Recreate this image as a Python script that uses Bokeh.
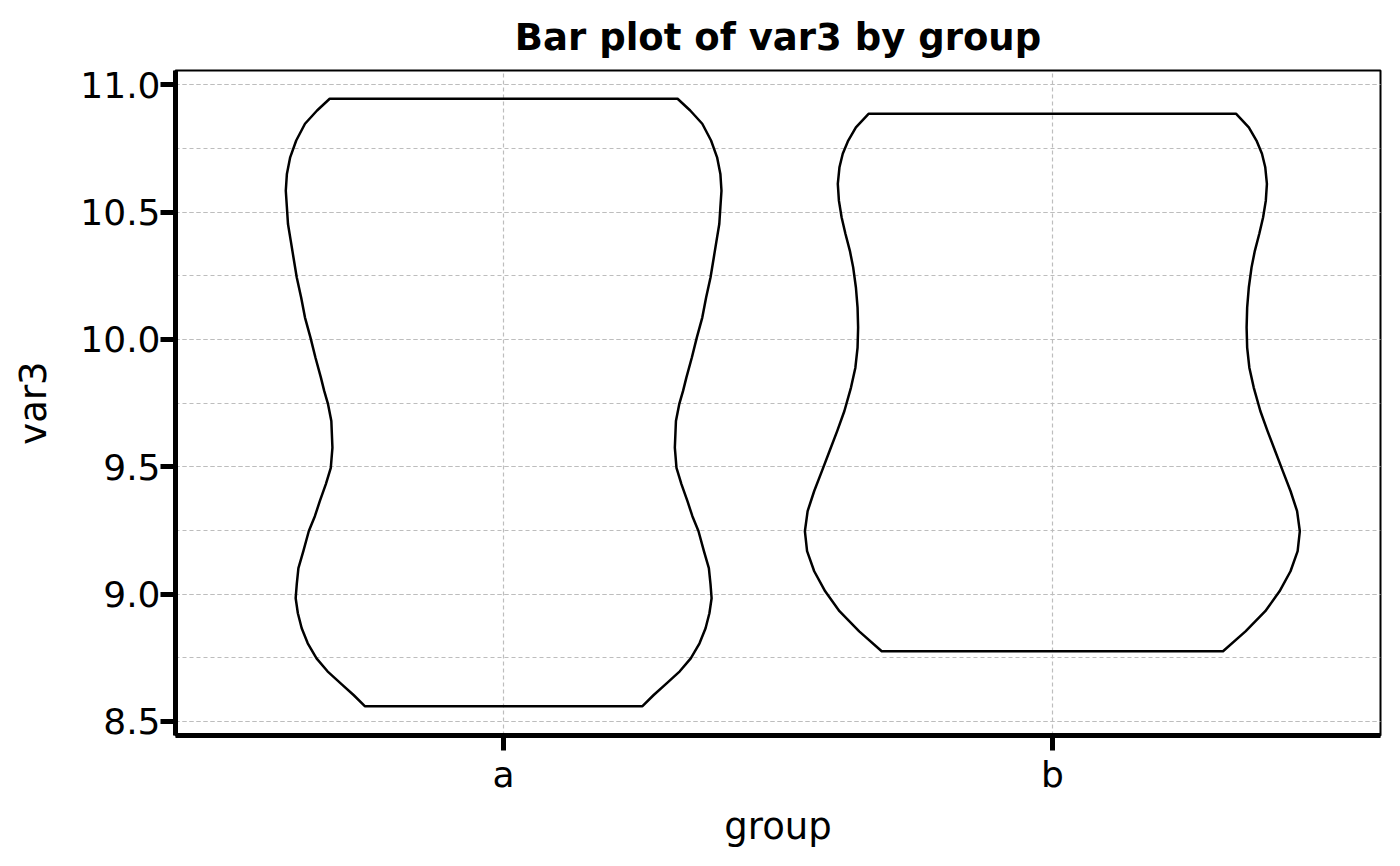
from bokeh.plotting import figure
from bokeh.models import Range1d, FixedTicker, SingleIntervalTicker, PrintfTickFormatter
from bokeh.embed import file_html
from bokeh.resources import INLINE

# ---- data ----
groups = ["a", "b"]
group_pos = [0, 1]

# violin a: y levels (top -> bottom) and half-widths (x units)
a_y = [10.945, 10.899, 10.847, 10.781, 10.715, 10.650, 10.584, 10.519, 10.453, 10.388,
       10.322, 10.243, 10.165, 10.086, 10.007, 9.929, 9.850, 9.798, 9.746, 9.680,
       9.575, 9.496, 9.432, 9.365, 9.306, 9.248, 9.169, 9.102, 9.039, 8.984,
       8.925, 8.866, 8.807, 8.748, 8.697, 8.646, 8.603, 8.560]
a_hw = [0.317, 0.340, 0.362, 0.378, 0.389, 0.395, 0.397, 0.395, 0.393, 0.388,
        0.383, 0.377, 0.369, 0.362, 0.352, 0.343, 0.333, 0.327, 0.320, 0.314,
        0.312, 0.315, 0.324, 0.335, 0.344, 0.355, 0.365, 0.374, 0.377, 0.379,
        0.375, 0.368, 0.357, 0.341, 0.321, 0.295, 0.273, 0.253]

# violin b
b_y = [10.886, 10.833, 10.781, 10.729, 10.676, 10.611, 10.545, 10.479, 10.414, 10.348,
       10.283, 10.204, 10.125, 10.047, 9.968, 9.889, 9.811, 9.719, 9.641, 9.562,
       9.483, 9.405, 9.326, 9.247, 9.169, 9.090, 9.011, 8.933, 8.854, 8.776]
b_hw = [0.335, 0.358, 0.372, 0.382, 0.388, 0.391, 0.389, 0.384, 0.377, 0.369,
        0.363, 0.358, 0.355, 0.354, 0.355, 0.359, 0.367, 0.379, 0.392, 0.406,
        0.420, 0.434, 0.446, 0.451, 0.447, 0.434, 0.414, 0.388, 0.352, 0.311]

FONT = "DejaVu Sans"

p = figure(width=1384, height=850, output_backend="svg", toolbar_location=None,
           x_range=Range1d(-0.598, 1.598), y_range=Range1d(8.445, 11.056),
           min_border_left=175, min_border_right=4, min_border_top=70, min_border_bottom=115,
           title="Bar plot of var3 by group")

p.title.text_font = FONT
p.title.text_font_size = "37px"
p.title.text_font_style = "bold"
p.title.align = "center"
p.title.text_color = "black"
p.title.standoff = 24

p.background_fill_color = "white"
p.border_fill_color = "white"
p.outline_line_color = "black"
p.outline_line_width = 2

# axes
p.xaxis.ticker = FixedTicker(ticks=group_pos)
p.xaxis.major_label_overrides = {pos: g for pos, g in zip(group_pos, groups)}
p.yaxis.ticker = SingleIntervalTicker(interval=0.5, num_minor_ticks=2)
p.yaxis.formatter = PrintfTickFormatter(format="%.1f")

p.xaxis.axis_label = "group"
p.yaxis.axis_label = "var3"
for ax in (p.xaxis, p.yaxis):
    ax.axis_line_width = 5
    ax.axis_line_color = "black"
    ax.major_tick_line_width = 5
    ax.major_tick_line_color = "black"
    ax.major_tick_out = 15
    ax.major_tick_in = 0
    ax.minor_tick_line_color = None
    ax.major_label_text_font = FONT
    ax.major_label_text_font_size = "36px"
    ax.major_label_text_color = "black"
    ax.axis_label_text_font = FONT
    ax.axis_label_text_font_size = "37px"
    ax.axis_label_text_font_style = "normal"
    ax.axis_label_text_color = "black"
p.yaxis.major_label_standoff = 0
p.yaxis.axis_label_standoff = 22
p.xaxis.major_label_standoff = 3
p.xaxis.axis_label_standoff = 7

# grid
for g in (p.xgrid, p.ygrid):
    g.grid_line_color = "#bdbdbd"
    g.grid_line_width = 1.2
    g.grid_line_dash = "4 3"
p.ygrid.minor_grid_line_color = "#bdbdbd"
p.ygrid.minor_grid_line_width = 1.2
p.ygrid.minor_grid_line_dash = "4 3"
p.xgrid.ticker = FixedTicker(ticks=group_pos)
p.ygrid.ticker = p.yaxis.ticker

# violins
for c, ys, hw in ((group_pos[0], a_y, a_hw), (group_pos[1], b_y, b_hw)):
    xs = [c + w for w in hw] + [c - w for w in reversed(hw)]
    yy = list(ys) + list(reversed(ys))
    p.patch(xs, yy, fill_alpha=0, line_color="black", line_width=2.5, line_join="round")

open("out.html", "w").write(file_html(p, INLINE))
